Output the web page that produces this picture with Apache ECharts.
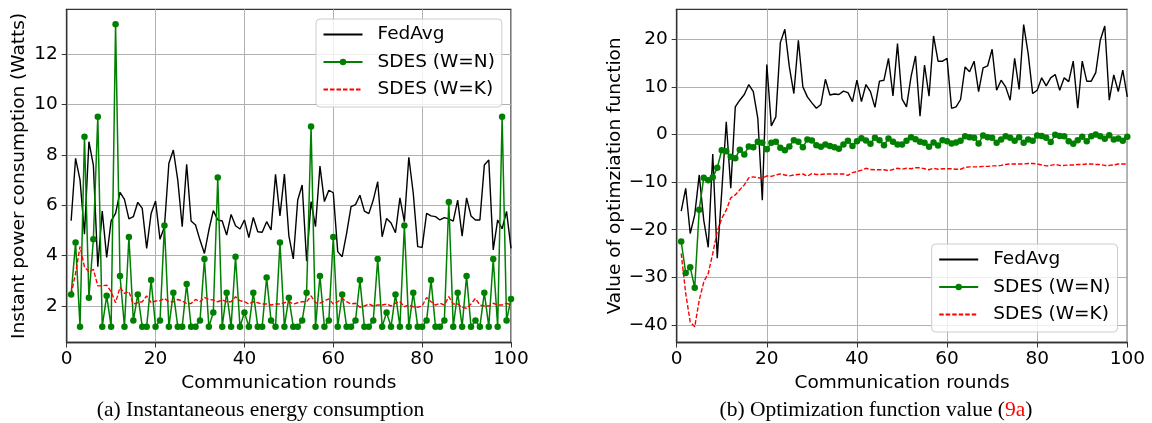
<!DOCTYPE html>
<html>
<head>
<meta charset="utf-8">
<script src="https://cdn.jsdelivr.net/npm/echarts@6/dist/echarts.min.js"></script>
<style>
html,body{margin:0;padding:0;background:#fff;}
#chart{width:1152px;height:423px;}
</style>
</head>
<body>
<div id="chart"></div>
<script>
// ---- data ----
const rounds = Array.from({length: 100}, (_, i) => i + 1);
const xTicks = [0, 20, 40, 60, 80, 100];
const powerTicks = [2, 4, 6, 8, 10, 12];
const optTicks = [-40, -30, -20, -10, 0, 10, 20];
const seriesNames = ['FedAvg', 'SDES (W=N)', 'SDES (W=K)'];

const powerFedAvg = [5.39,7.87,7.01,4.85,8.53,7.6,3.56,5.77,3.93,5.38,
  5.68,6.52,6.24,5.46,5.55,6.12,5.88,4.29,5.68,6.17,
  4.65,5.15,7.67,8.2,7.0,5.15,7.63,5.38,5.22,4.62,
  4.09,5.02,5.79,5.42,5.38,4.82,5.64,5.19,5.06,5.42,
  4.72,5.52,4.95,4.93,5.35,5.02,7.23,5.58,7.24,4.8,
  3.87,6.21,6.81,3.78,6.15,5.15,7.56,6.15,6.6,6.5,
  4.16,3.96,4.89,5.95,6.03,6.4,5.77,5.67,6.21,6.94,
  4.75,5.48,5.3,4.91,6.3,5.35,7.91,6.48,4.36,4.33,
  5.68,5.58,5.55,5.42,5.51,5.46,5.37,6.21,4.78,6.3,
  5.58,5.42,5.42,7.6,7.8,4.23,5.42,5.07,5.76,4.29];
const powerSdesN = [2.46,4.52,1.18,8.73,2.33,4.65,9.52,1.18,2.41,1.18,
  13.2,3.19,1.18,4.74,1.42,2.46,1.18,1.18,3.03,1.18,
  1.42,5.2,1.18,2.53,1.18,1.18,2.87,1.18,1.18,1.42,
  3.87,1.18,1.74,7.11,1.18,2.53,1.18,3.96,1.18,1.74,
  1.18,2.53,1.18,1.18,3.13,1.42,1.18,4.52,1.18,2.33,
  1.18,1.18,1.42,2.53,9.13,1.18,3.19,1.18,1.42,4.74,
  1.18,2.46,1.18,1.18,1.42,3.03,1.18,1.18,1.42,3.87,
  1.18,1.74,1.18,2.46,1.18,5.2,1.18,2.53,1.18,1.18,
  1.42,3.03,1.18,1.18,1.42,6.13,1.18,2.53,1.18,3.19,
  1.18,1.42,1.18,2.53,1.18,3.87,1.18,9.52,1.42,2.28];
const powerSdesK = [2.46,3.3,4.36,3.56,3.36,3.46,2.8,2.8,2.83,2.57,
  2.13,2.74,2.5,2.57,2.08,2.13,2.17,2.4,2.13,2.2,
  2.21,2.3,2.17,2.17,2.26,2.2,2.1,2.1,2.26,2.17,
  2.34,2.26,2.24,2.17,2.24,2.17,2.17,2.37,2.21,2.17,
  2.08,2.17,2.13,2.08,2.08,2.04,2.08,2.08,2.13,2.17,
  2.08,2.13,2.17,2.17,2.4,2.13,2.11,2.2,2.28,2.08,
  2.17,2.3,2.17,2.08,2.11,1.95,2.0,2.08,2.0,2.04,
  2.04,2.08,2.0,2.11,2.17,1.97,2.04,1.97,1.95,2.0,
  2.34,2.17,2.04,2.11,2.04,2.37,2.08,2.08,1.95,1.91,
  2.08,2.3,2.04,2.0,2.0,2.11,2.04,2.04,2.11,2.04];

const optFedAvg = [-16.1,-11.3,-20.8,-16.9,-8.5,-18,-23.7,-4.1,-26,-12,
  2.66,-11.3,5.8,7.2,8.4,10.5,9.0,3.4,-13.8,14.7,
  1.8,3.7,19.3,22.1,14.2,8.6,19.8,10,7.9,6.65,
  5.5,6.3,11.6,8.3,8.5,8.4,9.1,8.8,6.9,11.4,
  6.9,10.5,9,5.7,11.2,11.4,16,8.1,19.1,7.5,
  5.8,12.1,16.5,3.85,14.6,8.05,20.7,15.4,15.4,16.0,
  5.5,5.8,7.35,14.2,13.2,15.4,9.0,14.0,14.4,17.9,
  9.3,11.4,10.0,7.2,16.0,9.45,23.1,17.0,8.6,9.3,
  11.9,10.2,11.9,12.6,9.3,11.9,11.1,15.4,5.5,15.4,
  11.2,11.2,13.0,19.8,22.8,7.2,12.5,9.0,13.5,7.9];
const optSdesN = [-22.5,-29.1,-27.9,-32.2,-15.8,-9.1,-9.6,-9.0,-7.0,-3.3,
  -3.5,-4.7,-5.0,-3.2,-4.2,-2.5,-2.7,-1.5,-1.75,-3.1,
  -1.75,-1.5,-2.8,-3.3,-2.5,-1.2,-1.5,-2.7,-1.05,-1.26,
  -2.24,-2.6,-2.1,-2.4,-2.7,-3.0,-2.1,-1.3,-2.4,-1.4,
  -0.77,-1.26,-1.96,-0.7,-1.2,-2.24,-0.84,-1.54,-2.1,-2.1,
  -1.3,-0.6,-1.0,-1.5,-1.75,-2.6,-1.7,-2.3,-1.2,-1.4,
  -1.9,-1.7,-1.3,-0.35,-0.6,-0.7,-1.9,-0.2,-0.6,-0.7,
  -1.75,-1.05,-0.35,-0.7,-1.3,-0.6,-1.75,-1.05,-1.3,-0.2,
  -0.3,-0.7,-1.6,-0.07,-0.3,-0.35,-1.4,-1.96,-1.2,-0.5,
  -1.4,-0.35,0,-0.35,-0.9,-0.14,-1.05,-0.84,-1.3,-0.5];
const optSdesK = [-25,-33.4,-39.4,-40.4,-34.8,-31,-29.2,-25,-20.4,-17.6,
  -15.9,-13.3,-12.7,-11.6,-10.6,-9.1,-8.9,-9.1,-9.2,-8.7,
  -8.8,-8.5,-8.3,-8.5,-8.7,-8.5,-8.4,-8.3,-8.75,-8.2,
  -8.4,-8.4,-8.3,-8.3,-8.3,-8.3,-8.3,-8.6,-8.0,-7.8,
  -7.5,-7.1,-7.35,-7.4,-7.4,-7.4,-7.6,-7.35,-7.1,-7.3,
  -7.1,-7.2,-7.0,-7.0,-7.2,-7.4,-7.1,-7.3,-7.2,-7.2,
  -7.2,-7.3,-7.3,-6.9,-6.8,-6.8,-6.8,-6.7,-6.7,-6.6,
  -6.6,-6.5,-6.3,-6.2,-6.2,-6.2,-6.2,-6.1,-6.1,-6.2,
  -6.4,-6.6,-6.5,-6.3,-6.5,-6.5,-6.4,-6.4,-6.3,-6.3,
  -6.2,-6.2,-6.3,-6.3,-6.5,-6.5,-6.4,-6.2,-6.2,-6.2];

// ---- chart ----
const pairs = (vals) => rounds.map((r, i) => [r, vals[i]]);
const FONT = 'DejaVu Sans';
const FS = 18.5;
const gridLine = {show: true, lineStyle: {color: '#b0b0b0', width: 1}};

function xAxisDef(gridIndex) {
  return {
    type: 'value', gridIndex, min: 0, max: 100, interval: 20,
    name: 'Communication rounds', nameLocation: 'middle', nameGap: 30,
    nameTextStyle: {fontFamily: FONT, fontSize: FS, color: '#000'},
    axisLine: {show: true, onZero: false, lineStyle: {color: '#333', width: 1.3}},
    axisTick: {show: true, length: 5, lineStyle: {color: '#333'}},
    axisLabel: {fontFamily: FONT, fontSize: FS, color: '#000', margin: 7},
    splitLine: gridLine
  };
}
function yAxisDef(gridIndex, min, max, ticks, name, gap) {
  return {
    type: 'value', gridIndex, min, max,
    name, nameLocation: 'middle', nameGap: gap,
    nameTextStyle: {fontFamily: FONT, fontSize: FS, color: '#000'},
    axisLine: {show: true, onZero: false, lineStyle: {color: '#333', width: 1.3}},
    axisTick: {show: true, length: 5, customValues: ticks, lineStyle: {color: '#333'}},
    axisLabel: {fontFamily: FONT, fontSize: FS, color: '#000', margin: 9, customValues: ticks,
      formatter: v => String(v).replace('-', '\u2212')},
    splitLine: gridLine
  };
}
function lineSeries(name, data, xi, style) {
  const base = {
    name, type: 'line', data: pairs(data), xAxisIndex: xi, yAxisIndex: xi,
    animation: false, silent: true
  };
  return Object.assign(base, style);
}
const blackStyle = {symbol: 'none', lineStyle: {color: '#000', width: 1.4}, itemStyle: {color: '#000'}};
const greenStyle = {symbol: 'circle', symbolSize: 6.5, showSymbol: true,
  lineStyle: {color: '#008000', width: 1.5}, itemStyle: {color: '#008000'}};
const redStyle = {symbol: 'none', lineStyle: {color: '#ff0000', width: 1.4, type: [4.5, 2]}, itemStyle: {color: '#ff0000'}};

function legendDef(left, top) {
  return {
    left, top, orient: 'vertical', itemWidth: 39, itemHeight: 8, itemGap: 8.5,
    padding: [6, 7, 8, 6.5],
    backgroundColor: 'rgba(255,255,255,0.8)', borderColor: '#cccccc', borderWidth: 1, borderRadius: 4,
    textStyle: {fontFamily: FONT, fontSize: FS, color: '#000', padding: [0, 0, 0, 10]},
    selectedMode: false,
    data: [
      {name: seriesNames[0], itemStyle: {opacity: 0}},
      {name: seriesNames[1]},
      {name: seriesNames[2], itemStyle: {opacity: 0}}
    ]
  };
}

const chart = echarts.init(document.getElementById('chart'), null, {renderer: 'canvas'});
chart.setOption({
  backgroundColor: '#fff',
  animation: false,
  grid: [
    {left: 66.7, top: 9.3, width: 444.3, height: 333.2, show: true, borderColor: '#333', borderWidth: 1.3, backgroundColor: 'transparent'},
    {left: 676.7, top: 9.3, width: 450.6, height: 333.2, show: true, borderColor: '#333', borderWidth: 1.3, backgroundColor: 'transparent'}
  ],
  xAxis: [xAxisDef(0), xAxisDef(1)],
  yAxis: [
    yAxisDef(0, 0.55, 13.79, powerTicks, 'Instant power consumption (Watts)', 38),
    yAxisDef(1, -43.7, 26.3, optTicks, 'Value of optimziation function', 52)
  ],
  legend: [legendDef(316, 19), legendDef(931.7, 244)],
  series: [
    lineSeries(seriesNames[0], powerFedAvg, 0, blackStyle),
    lineSeries(seriesNames[1], powerSdesN, 0, greenStyle),
    lineSeries(seriesNames[2], powerSdesK, 0, redStyle),
    lineSeries(seriesNames[0], optFedAvg, 1, blackStyle),
    lineSeries(seriesNames[1], optSdesN, 1, greenStyle),
    lineSeries(seriesNames[2], optSdesK, 1, redStyle)
  ],
  graphic: [
    {type: 'text', x: 260.5, y: 410, silent: true,
      style: {text: '(a) Instantaneous energy consumption', fill: '#000',
        font: '21.5px "Liberation Serif"', textAlign: 'center', textVerticalAlign: 'middle'}},
    {type: 'text', x: 876, y: 410, silent: true,
      style: {text: '(b) Optimization function value ({r|9a})', fill: '#000',
        font: '21.5px "Liberation Serif"', textAlign: 'center', textVerticalAlign: 'middle',
        rich: {r: {fill: '#ff0000', font: '21.5px "Liberation Serif"'}}}}
  ]
});
</script>
</body>
</html>
